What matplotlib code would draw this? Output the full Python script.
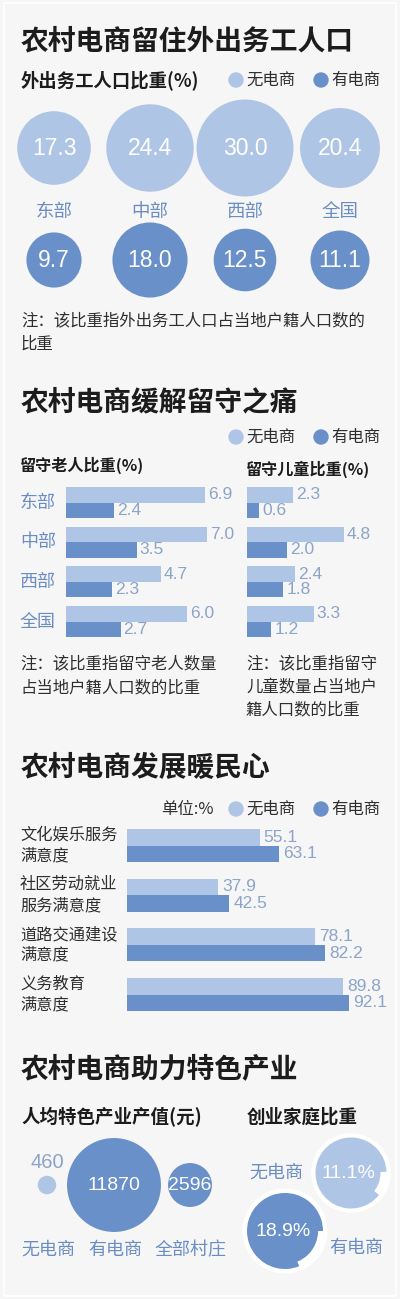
import matplotlib.pyplot as plt
from matplotlib.patches import Circle, Rectangle
from matplotlib.transforms import blended_transform_factory
import numpy as np

# ---- data ----
regions = ['东部', '中部', '西部', '全国']
migrant_no_ec = [17.3, 24.4, 30.0, 20.4]
migrant_ec = [9.7, 18.0, 12.5, 11.1]

elderly_no_ec = [6.9, 7.0, 4.7, 6.0]
elderly_ec = [2.4, 3.5, 2.3, 2.7]
children_no_ec = [2.3, 4.8, 2.4, 3.3]
children_ec = [0.6, 2.0, 1.8, 1.2]

services = ['文化娱乐服务\n满意度', '社区劳动就业\n服务满意度', '道路交通建设\n满意度', '义务教育\n满意度']
satisfy_no_ec = [55.1, 37.9, 78.1, 89.8]
satisfy_ec = [63.1, 42.5, 82.2, 92.1]

village_types = ['无电商', '有电商', '全部村庄']
output_per_capita = [460, 11870, 2596]

startup_types = ['无电商', '有电商']
startup_share = [11.1, 18.9]

# ---- style ----
BG = '#f6f6f6'
LIGHT = '#afc5e5'
DARK = '#6990c9'
BLUE_TXT = '#6a8dc4'
VAL_TXT = '#8ca4c9'
INK = '#1c1c1c'
NOTE = '#2e2e2e'
CJK = ['Noto Sans CJK SC', 'DejaVu Sans']
NUM = ['Liberation Sans', 'DejaVu Sans']

W, H = 400, 1299
fig = plt.figure(figsize=(W / 100, H / 100), dpi=100, facecolor=BG)
bg = fig.add_axes([0, 0, 1, 1])
bg.set_xlim(0, W)
bg.set_ylim(H, 0)
bg.axis('off')
bg.add_patch(Rectangle((4, 3), W - 8, H - 6, fill=False, ec='white', lw=1.2))


def px_axes(x, y, w, h):
    # axes placed in pixel units, y measured from the top
    return fig.add_axes([x / W, 1 - (y + h) / H, w / W, h / H])


def txt(x, y, s, size, color=NOTE, weight='normal', ha='left', family=CJK):
    bg.text(x, y, s, fontsize=size, color=color, fontweight=weight, ha=ha,
            va='center', family=family)


def legend(y):
    bg.add_patch(Circle((236, y), 7, color=LIGHT))
    txt(246, y, '无电商', 11.8)
    bg.add_patch(Circle((321, y), 7, color=DARK))
    txt(331, y, '有电商', 11.8)


# ================= section 1 =================
txt(21, 41, '农村电商留住外出务工人口', 20, INK, 'bold')
txt(21, 80, '外出务工人口比重(%)', 13.2, INK, 'bold')
legend(80)

col_x = [54, 150, 245, 340]
k1 = 8.85  # circle area ~ value
for cx, name, a, b in zip(col_x, regions, migrant_no_ec, migrant_ec):
    bg.add_patch(Circle((cx, 148), k1 * np.sqrt(a), color=LIGHT, lw=0))
    txt(cx, 148, f'{a:.1f}', 16.5, 'white', ha='center', family=NUM)
    txt(cx, 212, name, 13.3, BLUE_TXT, ha='center')
    bg.add_patch(Circle((cx, 260), k1 * np.sqrt(b), color=DARK, lw=0))
    txt(cx, 260, f'{b:.1f}', 16.5, 'white', ha='center', family=NUM)

txt(21, 322, '注：该比重指外出务工人口占当地户籍人口数的', 11.8)
txt(21, 344, '比重', 11.8)

# ================= section 2 =================
txt(21, 402, '农村电商缓解留守之痛', 20, INK, 'bold')
legend(437)
txt(20, 465, '留守老人比重(%)', 11.6, INK, 'bold')
txt(246, 469, '留守儿童比重(%)', 11.6, INK, 'bold')

pitch2 = 39.67
bh2 = 15.5 / pitch2
scale2 = 20.2  # px per percent


def pair_bars(ax, no_vals, yes_vals, bh, scale, size, off_px):
    y = np.arange(len(no_vals)) + 0.5
    ax.barh(y - bh / 2, no_vals, height=bh, color=LIGHT, lw=0)
    ax.barh(y + bh / 2, yes_vals, height=bh, color=DARK, lw=0)
    for yy, a, b in zip(y, no_vals, yes_vals):
        ax.text(a + off_px / scale, yy - bh / 2, f'{a:.1f}', fontsize=size,
                color=VAL_TXT, va='center', family=NUM)
        ax.text(b + off_px / scale, yy + bh / 2, f'{b:.1f}', fontsize=size,
                color=VAL_TXT, va='center', family=NUM)
    ax.set_ylim(len(no_vals), 0)
    ax.axis('off')


top2 = 487 - (pitch2 - 2 * 15.5) / 2
ax_old = px_axes(66, top2, 174, 4 * pitch2)
ax_old.set_xlim(0, 174 / scale2)
pair_bars(ax_old, elderly_no_ec, elderly_ec, bh2, scale2, 12.5, 3)
tr = blended_transform_factory(ax_old.transAxes, ax_old.transData)
for i, name in enumerate(regions):
    ax_old.text((20 - 66) / 174, i + 0.5, name, transform=tr, fontsize=13,
                color=BLUE_TXT, va='center', ha='left', family=CJK)

ax_kid = px_axes(247, top2, 150, 4 * pitch2)
ax_kid.set_xlim(0, 150 / scale2)
pair_bars(ax_kid, children_no_ec, children_ec, bh2, scale2, 12.5, 3)

note_l = ['注：该比重指留守老人数量', '占当地户籍人口数的比重']
note_r = ['注：该比重指留守', '儿童数量占当地户', '籍人口数的比重']
for i, line in enumerate(note_l):
    txt(20, 665 + 22.5 * i, line, 11.8)
for i, line in enumerate(note_r):
    txt(246, 665 + 22.5 * i, line, 11.8)

# ================= section 3 =================
txt(21, 768, '农村电商发展暖民心', 20, INK, 'bold')
legend(809)
txt(161, 809, '单位:%', 11.8)

pitch3 = 49.67
bh3 = 16.5 / pitch3
scale3 = 2.41
top3 = 829 - (pitch3 - 2 * 16.5) / 2
ax_sat = px_axes(127, top3, 273, 4 * pitch3)
ax_sat.set_xlim(0, 273 / scale3)
pair_bars(ax_sat, satisfy_no_ec, satisfy_ec, bh3, scale3, 12.5, 4)
tr = blended_transform_factory(ax_sat.transAxes, ax_sat.transData)
for i, name in enumerate(services):
    ax_sat.text((20 - 127) / 273, i + 0.5, name, transform=tr, fontsize=11.7,
                color=NOTE, va='center', ha='left', family=CJK, linespacing=1.3)

# ================= section 4 =================
txt(21, 1069, '农村电商助力特色产业', 20, INK, 'bold')
txt(21, 1117, '人均特色产业产值(元)', 13.3, INK, 'bold')
txt(247, 1117, '创业家庭比重', 13.3, INK, 'bold')

bubble_x = [47, 114, 190]
k4 = 0.431
for i, (cx, name, v) in enumerate(zip(bubble_x, village_types, output_per_capita)):
    r = k4 * np.sqrt(v)
    bg.add_patch(Circle((cx, 1185), r, color=LIGHT if i == 0 else DARK, lw=0))
    if r < 15:
        txt(cx, 1185 - r - 13, str(v), 14.5, VAL_TXT, ha='center', family=NUM)
    else:
        txt(cx, 1185, str(v), 14, 'white', ha='center', family=NUM)
    txt(cx + 1, 1250, name, 13, BLUE_TXT, ha='center')


def ring_pie(cx, cy, r, share, color, start, inner):
    # the share slice stops a little short of the rim, leaving a notch
    ax = px_axes(cx - 1.25 * r, cy - 1.25 * r, 2.5 * r, 2.5 * r)
    ax.add_patch(Circle((0, 0), 1.12, color='white', lw=0))
    ax.add_patch(Circle((0, 0), inner, color=color, lw=0))
    ax.pie([100 - share, share], radius=1, startangle=start,
           colors=[color, 'none'], wedgeprops=dict(linewidth=0))
    ax.set_xlim(-1.25, 1.25)
    ax.set_ylim(-1.25, 1.25)
    ax.set_aspect('equal')
    ax.axis('off')
    ax.text(-0.06, 0, f'{share}%', fontsize=14, color='white',
            ha='center', va='center', family=NUM)


ring_pie(351, 1173, 35.5, startup_share[0], LIGHT, 2, 0.83)
ring_pie(285, 1231, 38, startup_share[1], DARK, 0, 0.87)
txt(276, 1173, startup_types[0], 13, BLUE_TXT, ha='center')
txt(356, 1248, startup_types[1], 13, BLUE_TXT, ha='center')

fig.savefig('out.png', dpi=100, facecolor=BG)
